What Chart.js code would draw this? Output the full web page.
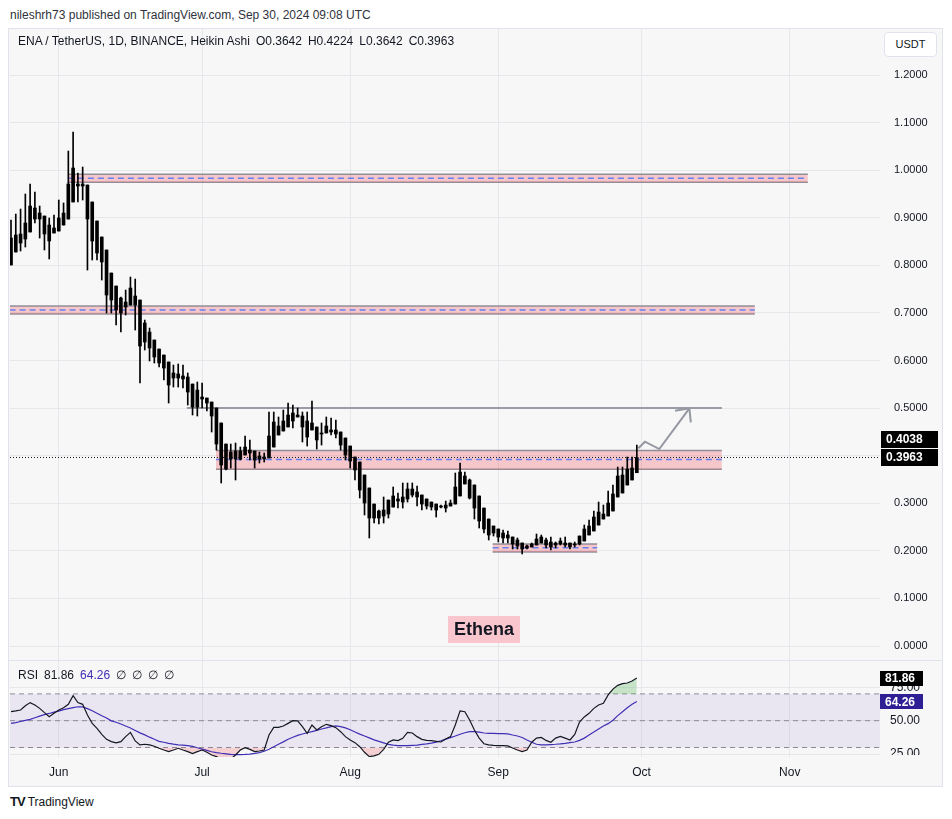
<!DOCTYPE html>
<html>
<head>
<meta charset="utf-8">
<script src="https://cdn.jsdelivr.net/npm/chart.js"></script>
<style>
  html,body{margin:0;padding:0;}
  body{width:952px;height:819px;background:#ffffff;position:relative;overflow:hidden;
       font-family:"Liberation Sans",Arial,sans-serif;color:#131722;}
  #hdr{position:absolute;left:10px;top:8px;font-size:12px;color:#2f323c;white-space:nowrap;}
  #frame{position:absolute;left:8px;top:28px;width:935px;height:759px;background:#f7f7f7;
         border:1px solid #e0e3eb;box-sizing:border-box;}
  #pc{position:absolute;left:10px;top:29px;}
  #rc{position:absolute;left:10px;top:661px;}
  #sep{position:absolute;left:9px;top:660px;width:933px;height:1px;background:#e0e3eb;}
  #cover{position:absolute;left:881px;top:755px;width:61px;height:31px;background:#f7f7f7;}
  #legend{position:absolute;left:18px;top:34px;font-size:12px;color:#131722;white-space:nowrap;}
  #legend span{margin-left:6px;}
  #usdt{position:absolute;left:884px;top:32px;width:53px;height:25px;box-sizing:border-box;background:#fff;
        border:1px solid #e0e3eb;border-radius:4px;font-size:11px;line-height:23px;text-align:center;color:#131722;}
  #rsileg{position:absolute;left:18px;top:668px;font-size:12px;color:#131722;white-space:nowrap;}
  #rsileg span{margin-left:6px;}
  #foot{position:absolute;left:10px;top:794px;font-size:12px;color:#131722;white-space:nowrap;}
  #foot b{font-size:13px;letter-spacing:-1px;margin-right:3px;}
</style>
</head>
<body>
<div id="hdr">nileshrh73 published on TradingView.com, Sep 30, 2024 09:08 UTC</div>
<div id="frame"></div>
<canvas id="pc" width="933" height="631"></canvas>
<div id="sep"></div>
<canvas id="rc" width="933" height="126"></canvas>
<div id="cover"></div>
<div id="legend"></div>
<div id="usdt">USDT</div>
<div id="rsileg"></div>
<div id="foot"><b>TV</b>TradingView</div>
<script>
// ---------------- DATA (daily Heikin Ashi candles, first candle = 2024-05-22) ----------------
const symbolTitle = 'ENA / TetherUS, 1D, BINANCE, Heikin Ashi';
const open = [
 .8008,.8281,.8470,.8554,.8701,.8974,.9100,.9037,.8848,.8680,
 .8722,.8848,.8974,.9332,.9710,.9710,.9689,.9332,.8932,.8596,
 .8323,.7839,.7566,.7314,.7230,.7167,.7356,.7272,.6789,.6599,
 .6431,.6242,.6116,.5969,.5738,.5717,.5675,.5654,.5506,.5380,
 .5233,.5212,.5128,.5002,.4687,.4245,.4077,.4098,.4098,.4014,
 .4119,.4098,.3993,.3972,.3951,.4182,.4435,.4519,.4603,.4729,
 .4813,.4834,.4729,.4540,.4603,.4477,.4477,.4498,.4540,.4498,
 .4372,.4203,.3972,.3867,.3594,.3321,.2984,.2837,.2732,.2774,
 .2921,.3047,.3026,.3090,.3174,.3237,.3174,.3090,.3026,.2984,
 .2942,.2900,.2942,.2984,.3153,.3405,.3489,.3384,.3153,.2900,
 .2669,.2522,.2459,.2375,.2333,.2291,.2228,.2165,.2102,.2081,
 .2123,.2165,.2228,.2186,.2123,.2144,.2165,.2165,.2123,.2144,
 .2207,.2333,.2417,.2543,.2669,.2732,.2837,.3132,.3216,.3384,
 .3489,.3642];
const high = [
 .8953,.9079,.9184,.9500,.9710,.9542,.9247,.9037,.8995,.9058,
 .9374,.9311,1.0403,1.0803,.9941,1.0067,.9689,.9332,.8932,.8596,
 .8323,.7839,.7566,.7335,.7482,.7755,.7713,.7272,.6851,.6683,
 .6431,.6242,.6116,.5969,.5906,.5927,.5906,.5738,.5506,.5549,
 .5527,.5212,.5128,.5002,.4687,.4245,.4245,.4266,.4182,.4414,
 .4330,.4098,.4077,.4056,.4918,.4918,.4813,.4960,.5107,.5065,
 .5002,.4918,.4918,.5149,.4603,.4687,.4813,.4792,.4750,.4498,
 .4372,.4203,.3972,.3867,.3594,.3321,.2984,.2858,.3132,.3068,
 .3342,.3216,.3426,.3426,.3426,.3363,.3174,.3090,.3026,.2984,
 .2963,.3047,.3068,.3636,.3846,.3657,.3510,.3384,.3153,.2900,
 .2669,.2522,.2459,.2438,.2417,.2291,.2270,.2165,.2123,.2165,
 .2354,.2333,.2270,.2291,.2186,.2270,.2291,.2165,.2186,.2312,
 .2543,.2648,.2837,.3026,.2963,.3258,.3384,.3762,.3762,.3972,
 .3972,.4224];
const low = [
 .8008,.8281,.8302,.8386,.8701,.8890,.8575,.8323,.8134,.8680,
 .8722,.8848,.8974,.9332,.9332,.9374,.7902,.8113,.8113,.7692,
 .6999,.6999,.6746,.6599,.6957,.7167,.6641,.5527,.6221,.5990,
 .5948,.5864,.5591,.5107,.5443,.5443,.5422,.5065,.4855,.4834,
 .5002,.4939,.4498,.4119,.3426,.3699,.3741,.3489,.3909,.4014,
 .3909,.3741,.3846,.3867,.3951,.4182,.4435,.4519,.4603,.4582,
 .4813,.4288,.4203,.4540,.4140,.4224,.4477,.4435,.4372,.4119,
 .3909,.3741,.3489,.3111,.2753,.2270,.2585,.2564,.2585,.2690,
 .2921,.2900,.2900,.3026,.3132,.2942,.2858,.2879,.2858,.2711,
 .2900,.2816,.2942,.2984,.3153,.3405,.3090,.2669,.2480,.2375,
 .2228,.2312,.2186,.2165,.2165,.2039,.2039,.1934,.2039,.2081,
 .2123,.2165,.2060,.2018,.2060,.2123,.2081,.2039,.2081,.2123,
 .2207,.2333,.2417,.2543,.2669,.2732,.2837,.3132,.3216,.3384,
 .3489,.3642];
const close = [
 .8575,.8638,.8659,.8890,.9247,.9205,.8974,.8659,.8512,.8785,
 .8995,.9100,.9710,1.0046,.9668,.9668,.8974,.8512,.8260,.8071,
 .7377,.7272,.7062,.6999,.7125,.7524,.7167,.6305,.6389,.6263,
 .6074,.5948,.5843,.5485,.5633,.5633,.5612,.5338,.5023,.5023,
 .5191,.5107,.4834,.4245,.3804,.3720,.3930,.3930,.3930,.4182,
 .4056,.3909,.3930,.3930,.4414,.4708,.4624,.4729,.4855,.4897,
 .4855,.4603,.4393,.4687,.4330,.4456,.4624,.4540,.4456,.4224,
 .4014,.3888,.3699,.3279,.3005,.2690,.2690,.2690,.2858,.3068,
 .3153,.3090,.3132,.3300,.3300,.3132,.2984,.2942,.2921,.2858,
 .2921,.2963,.3005,.3342,.3657,.3573,.3111,.2900,.2627,.2459,
 .2333,.2375,.2291,.2270,.2270,.2144,.2102,.2039,.2060,.2144,
 .2249,.2291,.2123,.2081,.2165,.2207,.2123,.2081,.2144,.2312,
 .2459,.2522,.2711,.2816,.2774,.3005,.3195,.3573,.3594,.3720,
 .3741,.3963];
const rsi = [
 56.7,57.3,58.0,61.2,63.5,61.7,59.2,56.0,53.0,55.5,
 58.0,59.7,62.2,68.7,63.5,62.2,54.3,48.0,44.3,39.8,
 36.1,34.4,33.4,34.4,38.1,41.3,34.9,31.9,32.4,31.9,
 30.9,29.4,28.1,26.9,28.1,29.4,28.1,26.9,25.4,26.9,
 28.1,26.4,24.4,23.2,21.4,20.7,21.4,24.4,28.1,29.9,
 28.6,26.9,27.4,28.1,39.3,45.0,45.0,46.0,48.0,50.0,
 49.8,45.5,40.6,46.8,43.1,45.5,47.3,46.3,44.8,41.8,
 38.1,35.6,33.6,30.6,26.4,23.2,23.7,24.9,28.6,33.9,
 35.6,35.1,36.8,41.3,40.8,38.1,36.1,35.3,35.1,34.6,
 34.1,36.3,38.1,46.8,57.3,56.7,50.5,43.1,37.0,32.8,
 32.0,31.6,31.4,31.4,31.2,29.6,28.1,26.9,28.1,33.9,
 37.0,37.5,35.3,33.9,37.0,38.3,37.0,35.6,39.8,49.0,
 52.8,55.5,59.2,61.7,63.0,69.2,73.6,76.4,77.6,78.1,
 79.6,81.86];
const rsiMA = [
 48.0,48.6,49.4,50.2,51.0,52.2,53.4,54.5,55.4,56.4,
 57.2,58.2,59.0,59.8,60.4,60.3,59.0,57.4,55.5,53.7,
 52.0,49.9,48.8,47.5,46.0,44.6,42.7,40.9,39.4,37.7,
 36.2,34.6,33.9,33.1,32.5,32.0,31.8,31.4,30.9,29.8,
 28.8,27.8,26.8,26.2,25.7,25.3,24.9,24.7,24.7,24.8,
 25.1,25.6,26.2,27.2,28.7,30.6,32.4,34.2,36.2,37.6,
 39.0,40.1,41.0,41.8,42.8,43.8,44.6,45.6,46.1,45.6,
 44.6,43.2,41.6,40.0,38.6,37.2,35.7,34.6,33.4,32.3,
 31.8,31.4,31.4,31.4,31.6,31.8,32.3,32.7,33.3,34.0,
 35.0,36.2,37.4,38.6,39.9,41.0,41.8,41.8,41.4,40.8,
 40.6,40.6,40.3,40.3,40.1,39.3,38.6,37.5,35.6,33.9,
 32.4,31.9,31.9,32.2,32.4,32.7,33.1,33.6,34.1,35.3,
 37.0,39.3,41.5,43.8,46.0,47.8,50.3,53.8,56.7,59.7,
 62.2,64.26];
const priceTicks = [0,0.1,0.2,0.3,0.4,0.5,0.6,0.7,0.8,0.9,1.0,1.1,1.2];
const rsiTicks = [25,50,75];
const rsiLevels = [70,50,30];
const monthLabels = ['Jun','Jul','Aug','Sep','Oct','Nov'];
const monthStartDay = [10,40,71,102,132,163];
// drawn zones (day index from first candle, price bounds)
const zoneStart = [11.9,-0.3,42.9,100.8];
const zoneEnd   = [166.8,155.7,148.8,122.7];
const zoneHigh  = [0.9914,0.7146,0.4109,0.2144];
const zoneLow   = [0.9746,0.6978,0.3714,0.1976];
const zoneMid   = [0.9830,0.7062,0.3920,0.2066];
const levelStart = [36.8], levelEnd = [148.8], levelPrice = [0.5];
const arrowDay = [131.3,132.7,135.7,142.0], arrowPrice = [0.4155,0.4294,0.4140,0.4996];
const headDay = [139.0,142.0,142.3], headPrice = [0.4945,0.4996,0.4702];
const priceTags = [0.4038,0.3963];
const rsiTags = [81.86,64.26];
const noteText = 'Ethena', noteDay = 99.0, notePrice = 0.0357;
const rsiPeriodExtras = ['∅','∅','∅','∅'];

// ---------------- layout constants ----------------
const X_MIN = -0.21, X_MAX = 181.9;
const P_MIN = -0.0294, P_MAX = 1.2968;
const R_MIN = 22.9, R_MAX = 94.55;
const GRID = '#e6e7ea';
const FONT = "'Liberation Sans', Arial, sans-serif";
Chart.defaults.font.family = FONT;
Chart.defaults.color = '#131722';

const n = close.length;
const lastI = n - 1;

document.getElementById('legend').innerHTML = symbolTitle +
  '<span>O' + open[lastI].toFixed(4) + '</span><span>H' + high[lastI].toFixed(4) +
  '</span><span>L' + low[lastI].toFixed(4) + '</span><span>C' + close[lastI].toFixed(4) + '</span>';
document.getElementById('rsileg').innerHTML = 'RSI<span>' + rsi[lastI].toFixed(2) +
  '</span><span style="color:#3f2fb5">' + rsiMA[lastI].toFixed(2) + '</span>' +
  rsiPeriodExtras.map(s => '<span>' + s + '</span>').join('');

// ---------------- price chart datasets ----------------
const ds = [];
ds.push({type:'line', data:[{x:X_MIN,y:close[lastI]},{x:X_MAX,y:close[lastI]}], borderColor:'#131722',
  borderWidth:1, borderDash:[1,2], pointRadius:0, fill:false, order:-2});
ds.push({type:'bar', data: open.map((o,i)=>({x:i, y:[Math.min(o,close[i]), Math.max(o,close[i])]})),
  backgroundColor:'#000000', barThickness:3, minBarLength:1, grouped:false, order:0});
ds.push({type:'bar', data: high.map((h,i)=>({x:i, y:[low[i], h]})),
  backgroundColor:'#000000', barThickness:1, grouped:false, order:1});
ds.push({type:'line', data: arrowDay.map((d,i)=>({x:d,y:arrowPrice[i]})), borderColor:'#9598a1',
  borderWidth:2, pointRadius:0, fill:false, tension:0, order:2});
ds.push({type:'line', data: headDay.map((d,i)=>({x:d,y:headPrice[i]})), borderColor:'#9598a1',
  borderWidth:2, pointRadius:0, fill:false, tension:0, order:2});
levelStart.forEach((s,k)=>{
  ds.push({type:'line', data:[{x:s,y:levelPrice[k]},{x:levelEnd[k],y:levelPrice[k]}], borderColor:'#9a9ca5',
    borderWidth:2, pointRadius:0, fill:false, order:8});
});
zoneStart.forEach((s,k)=>{
  ds.push({type:'line', data:[{x:s,y:zoneHigh[k]},{x:zoneEnd[k],y:zoneHigh[k]}], borderColor:'rgba(120,123,134,0.8)',
    borderWidth:1.5, pointRadius:0, fill:'+1', backgroundColor:'rgba(242,54,69,0.25)', order:10});
  ds.push({type:'line', data:[{x:s,y:zoneLow[k]},{x:zoneEnd[k],y:zoneLow[k]}], borderColor:'rgba(120,123,134,0.8)',
    borderWidth:1.5, pointRadius:0, fill:false, order:10});
  ds.push({type:'line', data:[{x:s,y:zoneMid[k]},{x:zoneEnd[k],y:zoneMid[k]}], borderColor:'rgba(41,98,255,0.7)',
    borderWidth:1.5, borderDash:[6,4], pointRadius:0, fill:false, order:9});
});

function tagBox(ctx, left, cy, w, h, bg, txt){
  ctx.save();
  ctx.fillStyle = bg;
  ctx.fillRect(left, Math.round(cy - h/2), w, h);
  ctx.fillStyle = '#ffffff';
  ctx.font = 'bold 12px ' + FONT;
  ctx.textBaseline = 'middle';
  ctx.textAlign = 'left';
  ctx.fillText(txt, left + 5, Math.round(cy) + 1);
  ctx.restore();
}

const priceExtras = {
  id:'priceExtras',
  afterDatasetsDraw(chart){
    const {ctx, scales:{x,y}} = chart;
    const nx = x.getPixelForValue(noteDay), ny = y.getPixelForValue(notePrice);
    ctx.save();
    ctx.font = 'bold 18px ' + FONT;
    const tw = ctx.measureText(noteText).width;
    ctx.fillStyle = '#f8c6cc';
    ctx.fillRect(Math.round(nx - tw/2 - 6), Math.round(ny - 13), Math.round(tw + 12), 27);
    ctx.fillStyle = '#131722';
    ctx.textAlign = 'center'; ctx.textBaseline = 'middle';
    ctx.fillText(noteText, nx, ny + 1);
    ctx.restore();
  },
  afterDraw(chart){
    const {ctx, scales:{y}, chartArea} = chart;
    const yl = y.getPixelForValue(priceTags[1]);
    tagBox(ctx, chartArea.right + 1, yl - 18, 57, 17, '#000000', priceTags[0].toFixed(4));
    tagBox(ctx, chartArea.right + 1, yl, 57, 17, '#000000', priceTags[1].toFixed(4));
  }
};

new Chart(document.getElementById('pc'), {
  type:'bar',
  data:{datasets: ds},
  options:{
    responsive:false, animation:false, devicePixelRatio:1,
    layout:{padding:0},
    plugins:{legend:{display:false}, tooltip:{enabled:false}},
    scales:{
      x:{type:'linear', min:X_MIN, max:X_MAX, offset:false,
         grid:{color:GRID, offset:false, drawTicks:false}, border:{display:false},
         ticks:{display:false},
         afterBuildTicks:s=>{ s.ticks = monthStartDay.map(v=>({value:v})); },
         afterFit:s=>{ s.height = 0; s.paddingLeft = 0; s.paddingRight = 0; }},
      y:{type:'linear', position:'right', min:P_MIN, max:P_MAX,
         grid:{color:GRID, drawTicks:false}, border:{display:false},
         ticks:{padding:14, crossAlign:'near', font:{size:11}, color:'#131722',
                callback:v=>Number(v).toFixed(4)},
         afterBuildTicks:s=>{ s.ticks = priceTicks.map(v=>({value:v})); },
         afterFit:s=>{ s.width = 63; s.paddingTop = 0; s.paddingBottom = 0; }}
    }
  },
  plugins:[priceExtras]
});

// ---------------- RSI chart ----------------
const rds = [];
rds.push({data: rsi.map((v,i)=>({x:i,y:v})), borderColor:'#131722', borderWidth:1.2, pointRadius:0, tension:0,
  fill:{value:70, above:'rgba(76,175,80,0.28)', below:'rgba(0,0,0,0)'}, order:0});
rds.push({data: rsi.map((v,i)=>({x:i,y:v})), borderColor:'rgba(0,0,0,0)', borderWidth:0, pointRadius:0,
  fill:{value:30, above:'rgba(0,0,0,0)', below:'rgba(242,54,69,0.2)'}, order:3});
rds.push({data: rsiMA.map((v,i)=>({x:i,y:v})), borderColor:'#3f2fb5', borderWidth:1.2, pointRadius:0, tension:0,
  fill:false, order:1});
rsiLevels.forEach((lv,k)=>{
  rds.push({data:[{x:X_MIN,y:lv},{x:X_MAX,y:lv}], borderColor:'#8a8d96', borderWidth:1, borderDash:[5,4],
    pointRadius:0, fill: k === 0 ? {value: rsiLevels[2]} : false, backgroundColor:'rgba(126,87,194,0.1)', order:5});
});

const rsiExtras = {
  id:'rsiExtras',
  afterDraw(chart){
    const {ctx, scales:{y}, chartArea} = chart;
    tagBox(ctx, chartArea.right, y.getPixelForValue(rsiTags[0]), 43, 15, '#000000', rsiTags[0].toFixed(2));
    tagBox(ctx, chartArea.right, y.getPixelForValue(rsiTags[1]), 43, 15, '#2e1f95', rsiTags[1].toFixed(2));
  }
};

new Chart(document.getElementById('rc'), {
  type:'line',
  data:{datasets: rds},
  options:{
    responsive:false, animation:false, devicePixelRatio:1,
    layout:{padding:0},
    plugins:{legend:{display:false}, tooltip:{enabled:false}},
    scales:{
      x:{type:'linear', min:X_MIN, max:X_MAX,
         grid:{color:GRID, drawTicks:false}, border:{display:false},
         ticks:{padding:8, font:{size:12}, color:'#131722', maxRotation:0,
                callback:(v,i)=>monthLabels[i]},
         afterBuildTicks:s=>{ s.ticks = monthStartDay.map(v=>({value:v})); },
         afterFit:s=>{ s.height = 30; s.paddingLeft = 0; s.paddingRight = 0; }},
      y:{type:'linear', position:'right', min:R_MIN, max:R_MAX,
         grid:{color:GRID, drawTicks:false}, border:{display:false},
         ticks:{padding:10, crossAlign:'near', font:{size:12}, color:'#131722',
                callback:v=>Number(v).toFixed(2)},
         afterBuildTicks:s=>{ s.ticks = rsiTicks.map(v=>({value:v})); },
         afterFit:s=>{ s.width = 63; s.paddingTop = 0; s.paddingBottom = 0; }}
    }
  },
  plugins:[rsiExtras]
});
</script>
</body>
</html>
